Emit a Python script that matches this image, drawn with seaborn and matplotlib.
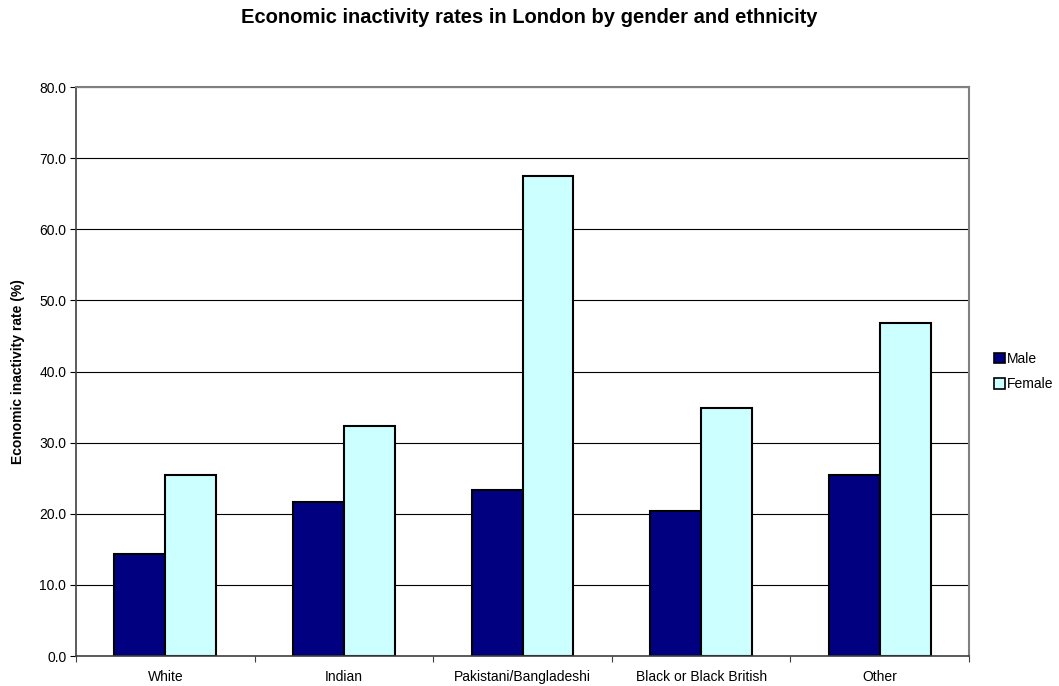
import matplotlib
matplotlib.use("Agg")
import matplotlib.pyplot as plt
import matplotlib.ticker as mticker
from matplotlib.patches import Patch
import seaborn as sns
import pandas as pd

categories = ["White", "Indian", "Pakistani/Bangladeshi", "Black or Black British", "Other"]
male = [14.3, 21.6, 23.3, 20.4, 25.4]
female = [25.5, 32.3, 67.5, 34.9, 46.9]
series_names = ["Male", "Female"]
colors = ["#000080", "#CCFFFF"]
y_ticks = [0, 10, 20, 30, 40, 50, 60, 70, 80]

df = pd.DataFrame({
    "Ethnicity": categories * 2,
    "Gender": [series_names[0]] * len(categories) + [series_names[1]] * len(categories),
    "Rate": male + female,
})

sns.set_style("white")
plt.rcParams["font.family"] = ["Liberation Sans", "DejaVu Sans"]
plt.rcParams["text.color"] = "black"
plt.rcParams["axes.labelcolor"] = "black"
plt.rcParams["xtick.color"] = "black"
plt.rcParams["ytick.color"] = "black"

fig = plt.figure(figsize=(10.59, 6.86), dpi=100)
ax = fig.add_axes([0.0718, 0.0437, 0.8432, 0.8293])

sns.barplot(data=df, x="Ethnicity", y="Rate", hue="Gender", order=categories,
            hue_order=series_names, palette=colors, width=0.57, gap=0,
            edgecolor="black", linewidth=1.5, saturation=1, ax=ax, legend=False)

ax.set_ylim(0, 80)
ax.set_xlim(-0.5, len(categories) - 0.5)
ax.set_yticks(y_ticks)
ax.yaxis.set_major_formatter(mticker.FormatStrFormatter("%.1f"))
ax.set_axisbelow(True)
ax.yaxis.grid(True, color="black", linewidth=0.8)
ax.xaxis.grid(False)

for s in ["top", "right"]:
    ax.spines[s].set_visible(True)
    ax.spines[s].set_color("#808080")
    ax.spines[s].set_linewidth(1.5)
ax.spines["left"].set_color("#404040")
ax.spines["left"].set_linewidth(1.2)
ax.spines["bottom"].set_color("#404040")
ax.spines["bottom"].set_linewidth(1.2)

ax.tick_params(axis="y", which="major", direction="out", length=4, width=0.8,
               color="black", labelsize=10, pad=3, left=True)
ax.tick_params(axis="x", which="major", length=0, labelsize=10, pad=10)
ax.xaxis.set_minor_locator(mticker.FixedLocator([i + 0.5 for i in range(-1, len(categories))]))
ax.tick_params(axis="x", which="minor", direction="out", length=4, width=0.8,
               color="#404040", bottom=True)

ax.set_xlabel("")
ax.set_ylabel("Economic inactivity rate (%)", fontsize=10, fontweight="bold", labelpad=10)

fig.text(0.5, 0.974, "Economic inactivity rates in London by gender and ethnicity",
         ha="center", va="center", fontsize=14.5, fontweight="bold")

handles = [Patch(facecolor=c, edgecolor="black", linewidth=1.2) for c in colors]
fig.legend(handles, series_names, loc="center left", bbox_to_anchor=(0.939, 0.458),
           frameon=False, fontsize=10, handlelength=0.75, handleheight=0.75,
           handletextpad=0.15, labelspacing=0.8, borderaxespad=0, borderpad=0)

fig.savefig("out.png", dpi=100, facecolor="white")
